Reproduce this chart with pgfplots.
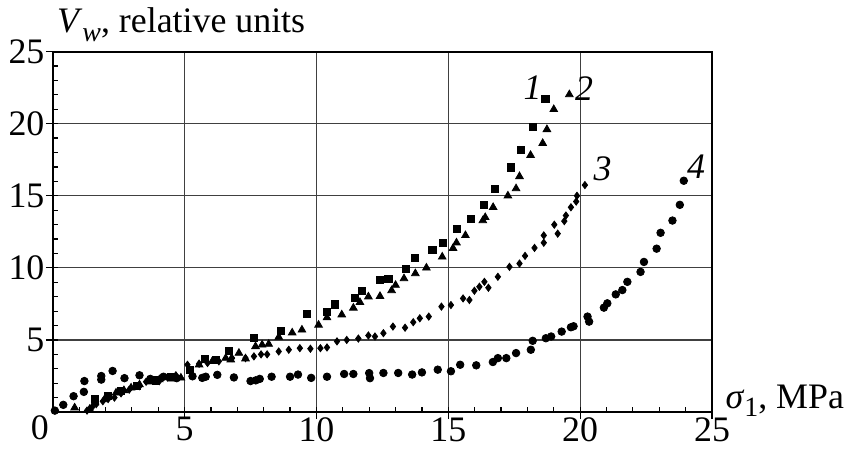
\documentclass[border=0pt]{standalone}
\usepackage{fontspec}
\setmainfont{Liberation Serif}
\usepackage{pgfplots}
\pgfplotsset{compat=1.18}

\begin{document}
\fontsize{18}{21}\selectfont
\begin{tikzpicture}
\begin{axis}[
    scale only axis,
    width=331pt, height=181pt,
    xmin=0, xmax=25, ymin=0, ymax=25,
    xtick={5,10,15,20,25}, ytick={5,10,15,20,25},
    minor xtick={1,2,...,24}, minor ytick={1,2,...,24},
    xtick pos=left, ytick pos=left,
    tick align=outside,
    major tick length=3.5pt, minor tick length=-2.5pt,
    tick style={black, line width=0.6pt},
    grid=major,
    major grid style={black!75, line width=0.6pt},
    axis line style={line width=1pt},
    ticklabel style={font=\fontsize{18}{21}\selectfont, inner sep=0.5pt},
    xticklabel shift=-1.5pt,
    /pgf/number format/assume math mode=true,
    clip=false,
]
% bounding box of the whole figure
\path (rel axis cs:-0.080,-0.104) rectangle (rel axis cs:1.195,1.143);

% curve 1: squares
\addplot[only marks, mark=square*, mark size=1.8pt, black] coordinates {
(1.6,0.9)(2.1,1.1)(2.6,1.45)(3.2,1.8)(3.9,2.2)(4.5,2.45)(5.2,2.9)
(5.78,3.7)(6.2,3.6)(6.68,4.25)(7.63,5.12)(8.64,5.63)(9.64,6.78)(10.4,6.97)
(10.71,7.47)(11.47,7.93)(11.72,8.42)(12.41,9.15)(12.73,9.21)(13.38,9.9)
(13.73,10.71)(14.4,11.27)(14.78,11.74)(15.34,12.71)(15.87,13.4)(16.35,14.39)
(16.76,15.5)(17.36,16.97)(17.76,18.16)(18.2,19.79)(18.68,21.72)
};

% curve 2: triangles
\addplot[only marks, mark=triangle*, mark size=2.2pt, black] coordinates {
(0.83,0.3)(1.4,0.2)(1.59,0.64)(1.96,0.87)(2.4,1.33)(2.7,1.5)(2.97,1.68)
(3.29,1.9)(3.7,2.1)(4.04,2.25)(4.5,2.3)(4.86,2.37)(5.55,3.28)(6.05,3.52)
(6.56,3.74)(6.75,3.63)(7.06,4.09)(7.31,3.7)(7.69,4.55)(7.94,4.66)(8.19,4.71)
(8.57,5.2)(9.08,5.5)(9.45,5.7)(10.08,6.04)(10.4,6.55)(10.96,6.75)(11.4,7.22)
(11.65,7.61)(11.97,8.0)(12.41,8.03)(12.85,8.43)(13.0,8.8)(13.32,9.26)
(13.75,9.61)(14.17,10.0)(14.77,10.76)(15.18,11.36)(15.31,11.74)(15.65,12.25)
(16.31,13.28)(16.4,13.5)(16.7,14.2)(17.26,15.0)(17.57,15.5)(17.7,16.34)
(18.12,17.81)(18.58,18.64)(18.74,19.6)(19.0,20.99)(19.59,22.02)
};

% curve 3: diamonds
\addplot[only marks, mark=diamond*, mark size=1.8pt, black] coordinates {
(1.3,0.1)(1.5,0.35)(1.65,0.55)(1.9,0.75)(2.1,0.9)(2.34,1.0)(2.59,1.3)
(2.9,1.55)(3.29,1.79)(3.54,2.1)(3.8,2.2)(4.04,2.15)(4.35,2.4)(4.67,2.55)
(5.11,3.28)(5.55,3.35)(5.87,3.4)(6.3,3.52)(6.8,3.74)(7.31,3.74)(7.63,3.86)
(7.9,4.0)(8.13,4.0)(8.57,4.2)(8.95,4.32)(9.37,4.43)(9.77,4.39)(10.15,4.43)
(10.4,4.48)(10.78,4.9)(11.15,5.0)(11.59,5.1)(11.97,5.31)(12.22,5.24)
(12.54,5.47)(12.9,5.93)(13.36,5.85)(13.67,6.23)(13.92,6.5)(14.26,6.62)
(14.74,7.31)(15.1,7.42)(15.56,7.88)(15.8,7.77)(15.99,8.41)(16.18,8.69)
(16.37,9.03)(16.52,8.62)(16.88,9.38)(17.32,10.07)(17.7,10.3)(17.91,10.83)
(18.27,11.38)(18.62,11.74)(18.62,12.25)(19.02,12.99)(19.15,12.37)(19.4,13.24)
(19.46,13.63)(19.65,14.2)(19.85,14.6)(19.88,15.0)(20.18,15.74)
};

% curve 4: circles
\addplot[only marks, mark=*, mark size=1.9pt, black] coordinates {
(0.08,0.1)(0.4,0.5)(0.79,1.1)(1.18,1.4)(1.2,2.15)(1.84,2.25)(1.84,2.5)
(2.27,2.85)(2.72,2.35)(3.29,2.55)(3.7,2.3)(4.2,2.45)(4.7,2.35)(5.3,2.48)
(5.67,2.37)(5.8,2.45)(6.24,2.58)(6.87,2.4)(7.5,2.15)(7.7,2.2)(7.85,2.3)
(8.3,2.45)(9.0,2.45)(9.3,2.6)(9.8,2.37)(10.4,2.45)(11.05,2.64)(11.4,2.64)
(12.0,2.7)(12.03,2.35)(12.54,2.71)(13.1,2.71)(13.63,2.6)(14.0,2.75)
(14.6,2.94)(15.1,2.83)(15.45,3.28)(16.06,3.24)(16.69,3.47)(16.88,3.74)
(17.2,3.74)(17.57,4.09)(18.13,4.32)(18.2,4.94)(18.7,5.12)(18.9,5.24)
(19.3,5.58)(19.65,5.88)(19.75,5.95)(20.28,6.62)(20.34,6.27)(20.9,7.24)
(21.03,7.54)(21.35,8.16)(21.6,8.46)(21.79,9.03)(22.29,9.72)(22.42,10.41)
(22.9,11.33)(23.05,12.43)(23.5,13.28)(23.78,14.37)(23.93,16.04)
};

% curve numbers
\node[font=\itshape] at (axis cs:18.2,22.5) {1};
\node[font=\itshape] at (axis cs:20.15,22.4) {2};
\node[font=\itshape] at (axis cs:20.85,16.85) {3};
\node[font=\itshape] at (axis cs:24.4,17.0) {4};

% common origin label
\node at (rel axis cs:-0.0196,-0.043) {0};

% axis titles
\node[anchor=base west, inner sep=0pt] at (rel axis cs:0.006,1.052)
  {\textit{V}\raisebox{-0.5ex}{\fontsize{14}{16}\selectfont\textit{w}}, relative units};
\node[anchor=west, inner sep=0pt] at (rel axis cs:1.02,0.031)
  {\textit{σ}\raisebox{-0.5ex}{\fontsize{14}{16}\selectfont 1}, MPa};
\end{axis}
\end{tikzpicture}
\end{document}
